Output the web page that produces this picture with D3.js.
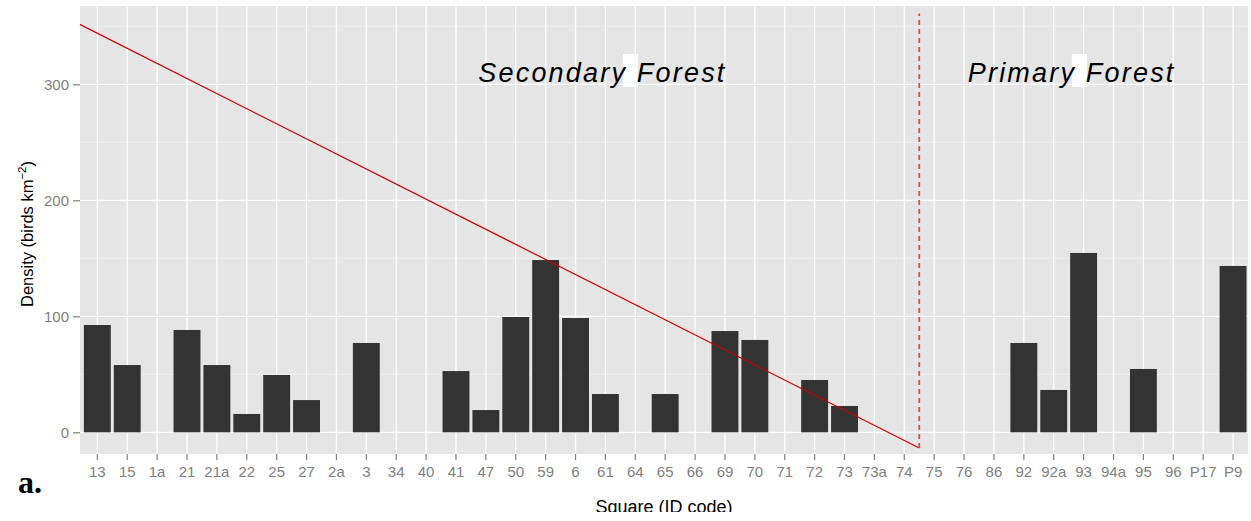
<!DOCTYPE html>
<html lang="en">
<head>
<meta charset="UTF-8">
<title>Density by square</title>
<script src="https://cdn.jsdelivr.net/npm/d3@7"></script>
<style>
  body { margin: 0; background: #fff; }
  svg { display: block; font-family: 'Liberation Sans', Arial, sans-serif; }
</style>
</head>
<body>
<svg id="chart" width="1251" height="521"></svg>
<script>
// data
var categories = ["13","15","1a","21","21a","22","25","27","2a","3","34","40","41","47","50","59","6","61","64","65","66","69","70","71","72","73","73a","74","75","76","86","92","92a","93","94a","95","96","P17","P9"];
var density = [92.5,58,0,88.2,58,15.8,49.4,27.8,0,77,0,0,52.8,19.2,99.4,148.5,98.5,33,0,33,0,87.3,79.6,0,45.1,22.7,0,0,0,0,0,77,36.5,154.6,0,54.6,0,0,143.4];
var yTicks = [0, 100, 200, 300];
var yMinor = [50, 150, 250, 350];
// trend line & divider, x in category positions (1 = first square)
var trendX = [0, 28.5];
var trendY = [357, -13.5];
var dividerX = 28.5;
var dividerY = [-13.5, 361];
var forestLabels = ["Secondary Forest", "Primary Forest"];
var labelX = [17.9, 33.6];
var labelY = [302, 302];

var W = 1251, H = 521;
var panel = {left: 80, right: 1248, top: 6, bottom: 454};
var svg = d3.select('#chart');

// continuous x in category units, band scale for bars on the same range
var xLin = d3.scaleLinear().domain([0.42, 39.5]).range([panel.left, panel.right]);
var x = d3.scaleBand().domain(categories)
    .range([xLin(0.5), xLin(categories.length + 0.5)])
    .paddingInner(0.1).paddingOuter(0.05);
var y = d3.scaleLinear().domain([-18.7, 367.5]).range([panel.bottom, panel.top]);

svg.append('defs').append('clipPath').attr('id', 'pclip')
  .append('rect').attr('x', panel.left).attr('y', panel.top)
  .attr('width', panel.right - panel.left).attr('height', panel.bottom - panel.top);
svg.select('defs').append('clipPath').attr('id', 'tclip')
  .append('rect').attr('x', 0).attr('y', 0).attr('width', W).attr('height', 512);

svg.append('rect').attr('x', panel.left).attr('y', panel.top)
  .attr('width', panel.right - panel.left).attr('height', panel.bottom - panel.top)
  .attr('fill', '#e5e5e5');

var grid = svg.append('g');
grid.selectAll('.minor').data(yMinor).enter().append('line')
  .attr('x1', panel.left).attr('x2', panel.right)
  .attr('y1', function(d) { return y(d); }).attr('y2', function(d) { return y(d); })
  .attr('stroke', '#f2f2f2').attr('stroke-width', 0.8);
grid.selectAll('.major').data(yTicks).enter().append('line')
  .attr('x1', panel.left).attr('x2', panel.right)
  .attr('y1', function(d) { return y(d); }).attr('y2', function(d) { return y(d); })
  .attr('stroke', '#fff').attr('stroke-width', 1.3);
grid.selectAll('.vx').data(categories).enter().append('line')
  .attr('x1', function(d) { return x(d) + x.bandwidth() / 2; })
  .attr('x2', function(d) { return x(d) + x.bandwidth() / 2; })
  .attr('y1', panel.top).attr('y2', panel.bottom)
  .attr('stroke', '#fff').attr('stroke-width', 1.3);

// bars
svg.append('g').selectAll('rect').data(density).enter().append('rect')
  .attr('x', function(d, i) { return x(categories[i]); })
  .attr('width', x.bandwidth())
  .attr('y', function(d) { return y(Math.max(d, 0)); })
  .attr('height', function(d) { return Math.abs(y(0) - y(d)); })
  .attr('fill', '#333333');

var over = svg.append('g').attr('clip-path', 'url(#pclip)');
over.append('line')
  .attr('x1', xLin(trendX[0])).attr('y1', y(trendY[0]))
  .attr('x2', xLin(trendX[1])).attr('y2', y(trendY[1]))
  .attr('stroke', '#cc0000').attr('stroke-width', 1.2);
over.append('line')
  .attr('x1', xLin(dividerX)).attr('x2', xLin(dividerX))
  .attr('y1', y(dividerY[0])).attr('y2', y(dividerY[1]))
  .attr('stroke', '#dd4b4b').attr('stroke-width', 1.8).attr('stroke-dasharray', '5,4');

// forest labels, with the white box where the space sits
forestLabels.forEach(function(t, i) {
  var g = over.append('g');
  var box = g.append('rect').attr('fill', '#fff');
  var txt = g.append('text')
    .attr('x', xLin(labelX[i])).attr('y', y(labelY[i]))
    .attr('text-anchor', 'middle')
    .attr('font-size', 27).attr('font-style', 'italic')
    .attr('letter-spacing', 2.2).attr('word-spacing', 0)
    .attr('fill', '#000').text(t);
  var k = t.indexOf(' ');
  var e = txt.node().getExtentOfChar(k);
  var f = txt.node().getExtentOfChar(k + 1);
  var x1 = f.x + 1;
  box.attr('x', x1 - 15).attr('width', 15)
    .attr('y', y(labelY[i]) - 28).attr('height', 33);
});

// axes
var xAxis = svg.append('g').attr('transform', 'translate(0,' + panel.bottom + ')')
  .call(d3.axisBottom(x).tickSize(6).tickPadding(6));
var yAxis = svg.append('g').attr('transform', 'translate(' + panel.left + ',0)')
  .call(d3.axisLeft(y).tickValues(yTicks).tickSize(7).tickPadding(4));
[xAxis, yAxis].forEach(function(a) {
  a.select('.domain').remove();
  a.attr('font-family', "'Liberation Sans', Arial, sans-serif").attr('font-size', 15);
  a.selectAll('.tick line').attr('stroke', '#7f7f7f').attr('stroke-width', 1.2);
  a.selectAll('.tick text').attr('fill', '#7f7f7f');
});

svg.append('text').attr('clip-path', 'url(#tclip)')
  .attr('x', (panel.left + panel.right) / 2).attr('y', 513)
  .attr('text-anchor', 'middle').attr('font-size', 18).attr('fill', '#000')
  .text('Square (ID code)');

var yt = svg.append('text')
  .attr('transform', 'translate(33,' + 234 + ') rotate(-90)')
  .attr('text-anchor', 'middle').attr('font-size', 16.5).attr('fill', '#000');
yt.append('tspan').text('Density (birds km');
yt.append('tspan').attr('dy', -7).attr('font-size', 11.5).text('\u22122');
yt.append('tspan').attr('dy', 7).text(')');

svg.append('text').attr('x', 18).attr('y', 493)
  .attr('font-family', "'Liberation Serif', 'Times New Roman', serif")
  .attr('font-weight', 'bold').attr('font-size', 32).attr('fill', '#000')
  .text('a.');
</script>
</body>
</html>
